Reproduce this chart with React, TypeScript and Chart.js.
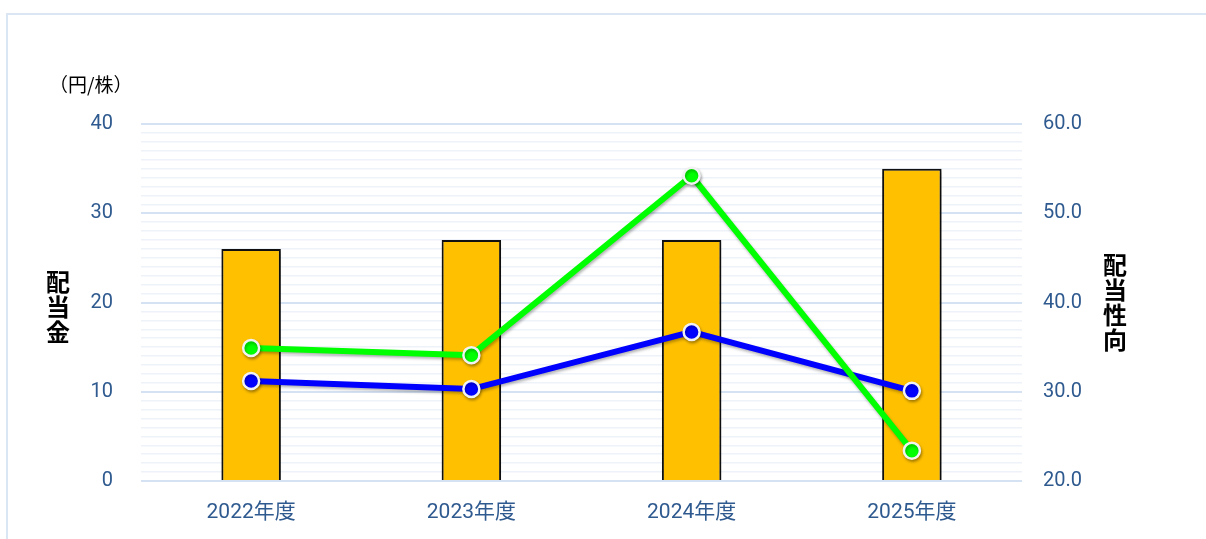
import React, { useEffect, useRef } from "react";
import { Chart, registerables } from "chart.js";

Chart.register(...registerables);

const categories = ["2022年度", "2023年度", "2024年度", "2025年度"];
const dividendPerShare = [26, 27, 27, 35];
const payoutRatioGreen = [34.9, 34.1, 54.2, 23.4];
const payoutRatioBlue = [31.2, 30.3, 36.7, 30.1];
const leftTitle = "配当金";
const rightTitle = "配当性向";
const unitLabel = "（円/株）";

const TICK_COLOR = "#2f5a8f";
const FONT = "Roboto, 'Noto Sans CJK JP', sans-serif";

const shadowPlugin = {
  id: "shadowPlugin",
  beforeDatasetDraw(chart: any) {
    const ctx = chart.ctx;
    ctx.save();
    ctx.shadowColor = "rgba(0,0,0,0.3)";
    ctx.shadowBlur = 3;
    ctx.shadowOffsetX = 1;
    ctx.shadowOffsetY = 2;
  },
  afterDatasetDraw(chart: any) {
    chart.ctx.restore();
  },
};

function VerticalTitle(props: { text: string; left: number; top: number }) {
  return (
    <div
      style={{
        position: "absolute",
        left: props.left,
        top: props.top,
        width: 26,
        fontFamily: "'Noto Sans CJK JP', sans-serif",
        fontWeight: 700,
        fontSize: 24,
        lineHeight: "25px",
        color: "#000",
        textAlign: "center",
      }}
    >
      {Array.from(props.text).map((ch, i) => (
        <div key={i}>{ch}</div>
      ))}
    </div>
  );
}

export default function App() {
  const ref = useRef<HTMLCanvasElement | null>(null);
  useEffect(() => {
    if (!ref.current) return;
    const chart = new Chart(ref.current, {
      type: "bar",
      data: {
        labels: categories,
        datasets: [
          {
            type: "line",
            label: "blue",
            data: payoutRatioBlue,
            yAxisID: "y1",
            borderColor: "#0000ff",
            backgroundColor: "#0000ff",
            borderWidth: 6,
            pointRadius: 8,
            pointBorderWidth: 2.5,
            pointBorderColor: "#f2f2f2",
            pointBackgroundColor: "#0000ff",
            order: 1,
          } as any,
          {
            type: "line",
            label: "green",
            data: payoutRatioGreen,
            yAxisID: "y1",
            borderColor: "#00ff00",
            backgroundColor: "#00ff00",
            borderWidth: 6,
            pointRadius: 8,
            pointBorderWidth: 2.5,
            pointBorderColor: "#f2f2f2",
            pointBackgroundColor: "#00ff00",
            order: 0,
          } as any,
          {
            type: "bar",
            label: "配当金",
            data: dividendPerShare,
            yAxisID: "y",
            backgroundColor: "#ffc000",
            borderColor: "#111111",
            borderWidth: { left: 2, right: 2, top: 2, bottom: 0 },
            borderSkipped: "bottom",
            barPercentage: 0.27,
            categoryPercentage: 1,
            order: 2,
          } as any,
        ],
      },
      options: {
        responsive: false,
        animation: false,
        layout: { padding: { top: 124, bottom: 0, left: 0, right: 0 } },
        plugins: { legend: { display: false }, tooltip: { enabled: false } },
        scales: {
          x: {
            grid: { display: false, drawTicks: false },
            border: { display: false },
            ticks: {
              color: TICK_COLOR,
              font: { family: FONT, size: 21 },
              padding: 19,
            },
            afterFit(scale: any) {
              scale.height = 58;
            },
          },
          y: {
            position: "left",
            min: 0,
            max: 40,
            grid: {
              drawTicks: false,
              color: (c: any) =>
                c.tick && c.tick.value % 10 === 0 ? "#d5e2f4" : "#eef2f9",
              lineWidth: (c: any) => (c.tick && c.tick.value % 10 === 0 ? 2 : 1.5),
            },
            border: { display: false },
            ticks: {
              stepSize: 1,
              autoSkip: false,
              color: TICK_COLOR,
              font: { family: FONT, size: 20 },
              padding: 28,
              callback: (v: any) => (Number(v) % 10 === 0 ? String(v) : ""),
            },
            afterFit(scale: any) {
              scale.width = 141;
            },
          },
          y1: {
            position: "right",
            min: 20,
            max: 60,
            grid: { display: false, drawTicks: false },
            border: { display: false },
            ticks: {
              stepSize: 10,
              color: TICK_COLOR,
              font: { family: FONT, size: 20 },
              padding: 21,
              callback: (v: any) => Number(v).toFixed(1),
            },
            afterFit(scale: any) {
              scale.width = 184;
            },
          },
        },
      },
      plugins: [shadowPlugin],
    });
    return () => chart.destroy();
  }, []);

  return (
    <div
      style={{
        position: "absolute",
        left: 0,
        top: 0,
        width: 1206,
        height: 539,
        overflow: "hidden",
        background: "#ffffff",
      }}
    >
      <div
        style={{
          position: "absolute",
          left: 6,
          top: 13,
          width: 1300,
          height: 700,
          border: "2px solid #dbe6f5",
        }}
      />
      <canvas
        ref={ref}
        width={1206}
        height={539}
        style={{ position: "absolute", left: 0, top: 0 }}
      />
      <div
        style={{
          position: "absolute",
          left: 49,
          top: 71,
          fontFamily: "'Noto Sans CJK JP', sans-serif",
          fontSize: 19,
          lineHeight: "26px",
          color: "#000",
          whiteSpace: "nowrap",
        }}
      >
        {unitLabel}
      </div>
      <VerticalTitle text={leftTitle} left={45} top={268} />
      <VerticalTitle text={rightTitle} left={1102} top={251} />
    </div>
  );
}
